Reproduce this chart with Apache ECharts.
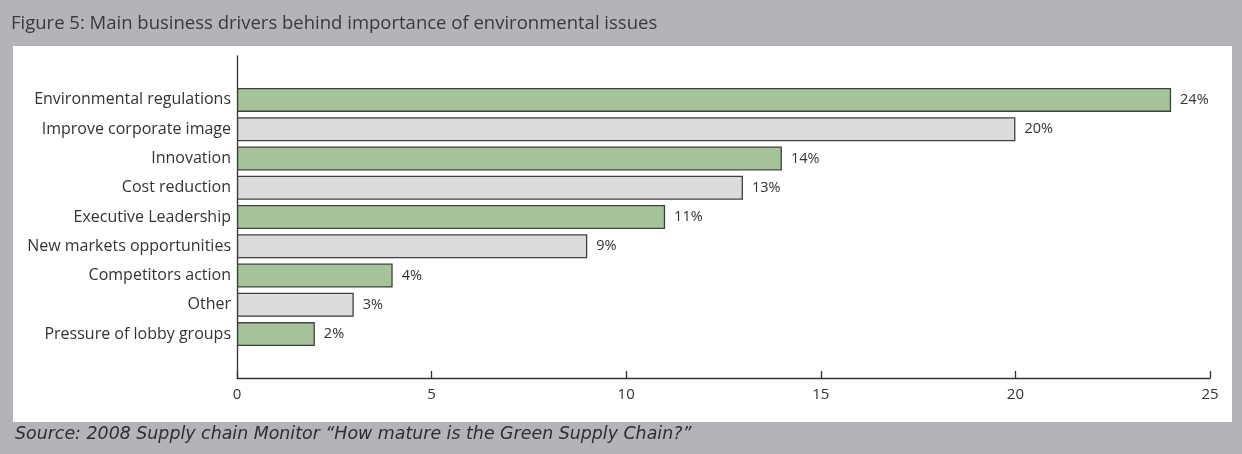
<!DOCTYPE html>
<html><head><meta charset="utf-8">
<script src="https://cdn.jsdelivr.net/npm/echarts@6/dist/echarts.min.js"></script>
<style>html,body{margin:0;padding:0;background:#b3b4b7;}#c{width:1242px;height:454px;}</style>
</head><body><div id="c"></div>
<script>
const categories = ["Environmental regulations","Improve corporate image","Innovation","Cost reduction","Executive Leadership","New markets opportunities","Competitors action","Other","Pressure of lobby groups"];
const values = [24, 20, 14, 13, 11, 9, 4, 3, 2];
const barColors = ["#a6c49a","#dcdcdf","#a6c49a","#dcdcdf","#a6c49a","#dcdcdf","#a6c49a","#dcdcdf","#a6c49a"];
const xTicks = [0, 5, 10, 15, 20, 25];
const title = "Figure 5: Main business drivers behind importance of environmental issues";
const source = "Source: 2008 Supply chain Monitor \u201cHow mature is the Green Supply Chain?\u201d";

// pad with empty slots above and below so the axis extends like the original
const yCats = [""].concat(categories, [""]);
const yData = [null].concat(values.map((v, i) => ({value: v, itemStyle: {color: barColors[i]}})), [null]);

const chart = echarts.init(document.getElementById('c'), null, {renderer: 'canvas'});
const font = "'Open Sans', sans-serif";
chart.setOption({
  backgroundColor: '#b3b4b7',
  animation: false,
  graphic: [
    {type: 'rect', shape: {x: 13, y: 46, width: 1219, height: 376}, style: {fill: '#ffffff'}, z: -10},
    {type: 'text', left: 11, top: 14, style: {text: title, font: "18.5px " + font, fill: '#3a3a3a'}},
    {type: 'text', left: 15, top: 426, style: {text: source, font: "oblique 17.4px 'DejaVu Sans', sans-serif", fill: '#2e2e2e'}}
  ],
  grid: {left: 237, top: 56, width: 973, height: 322, containLabel: false},
  xAxis: {
    type: 'value', min: xTicks[0], max: xTicks[xTicks.length - 1], interval: 5,
    axisLine: {show: true, lineStyle: {color: '#333', width: 1.3}},
    axisTick: {show: true, inside: true, length: 7, lineStyle: {color: '#333', width: 1.3}},
    axisLabel: {color: '#333', fontFamily: font, fontSize: 15, margin: 9},
    splitLine: {show: false}
  },
  yAxis: {
    type: 'category', data: yCats, inverse: true,
    axisLine: {show: true, lineStyle: {color: '#333', width: 1.3}},
    axisTick: {show: false},
    axisLabel: {color: '#333', fontFamily: font, fontSize: 16, margin: 6}
  },
  series: [{
    type: 'bar', data: yData, barWidth: 24,
    itemStyle: {borderColor: '#404040', borderWidth: 1.3},
    label: {show: true, position: 'right', distance: 9, formatter: '{c}%', color: '#333', fontFamily: font, fontSize: 14.5, fontWeight: 500}
  }]
});
</script></body></html>
